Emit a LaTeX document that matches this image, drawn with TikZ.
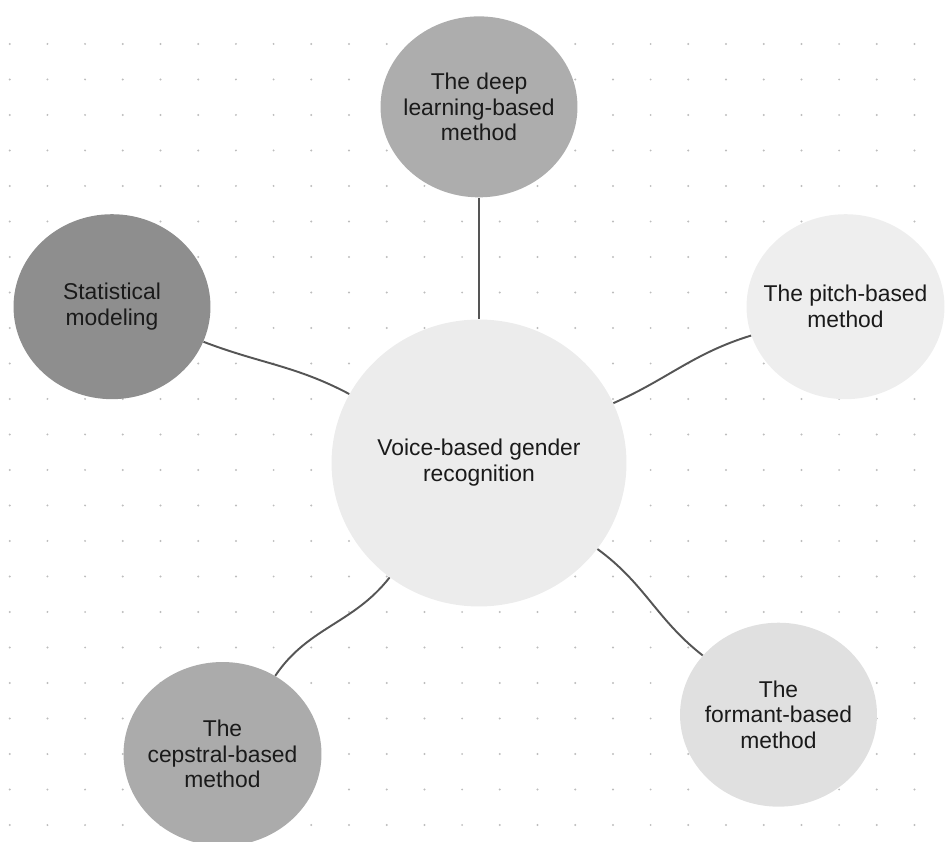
\documentclass[tikz,border=0pt]{standalone}
\usepackage{fontspec}
\setmainfont{Liberation Sans}
\usepackage{tikz}
\usetikzlibrary{shapes.geometric,positioning}
\definecolor{DotGray}{HTML}{BDBDBD}
\definecolor{LinkGray}{HTML}{555555}
\definecolor{InkGray}{HTML}{1A1A1A}
\definecolor{HubFill}{HTML}{ECECEC}
\definecolor{DeepFill}{HTML}{ADADAD}
\definecolor{StatFill}{HTML}{8E8E8E}
\definecolor{PitchFill}{HTML}{EEEEEE}
\definecolor{FormantFill}{HTML}{E0E0E0}
\definecolor{CepstralFill}{HTML}{ABABAB}
\tikzset{
  hub/.style={ellipse,fill=HubFill,inner xsep=-6pt,inner ysep=0pt,minimum width=5.9cm,minimum height=5.74cm,align=center,text=InkGray,font=\fontsize{13}{14.7}\selectfont},
  bubble/.style={ellipse,inner xsep=-12pt,inner ysep=0pt,minimum width=3.94cm,minimum height=3.7cm,align=center,text=InkGray,font=\fontsize{13}{14.7}\selectfont},
  link/.style={line width=1.1pt,color=LinkGray},
}

\begin{document}
\begin{tikzpicture}[x=0.02cm,y=0.02cm]
  \clip (0,0) rectangle (945,841);

  % Dotted canvas
  \foreach \i in {0,...,24}
    \foreach \j in {0,...,22}
      \fill[DotGray] (9.7+37.7*\i,797-35.5*\j) circle (1.1);

  % Hub
  \node[hub] (hub) at (479,378) {Voice-based gender\\recognition};

  % Methods around the hub
  \node[bubble, fill=DeepFill, minimum height=3.62cm, above=2.43cm of hub] (deep) {The deep\\learning-based\\method};
  \node[bubble, fill=StatFill] (stat) at (112,534.3) {Statistical\\modeling};
  \node[bubble, fill=PitchFill, minimum width=3.96cm] (pitch) at (845.5,534.3) {The pitch-based\\method};
  \node[bubble, fill=FormantFill, minimum height=3.68cm] (formant) at (778.5,126.3) {The\\formant-based\\method};
  \node[bubble, fill=CepstralFill, minimum width=3.96cm, minimum height=3.68cm] (cepstral) at (222.5,87) {The\\cepstral-based\\method};

  % Links
  \draw[link] (hub) -- (deep);
  \draw[link] (stat) to[out=-21,in=152] (hub);
  \draw[link] (hub) to[out=24,in=197] (pitch);
  \draw[link] (hub) to[out=-36,in=142] (formant);
  \draw[link] (hub) to[out=232,in=56] (cepstral);
\end{tikzpicture}
\end{document}
